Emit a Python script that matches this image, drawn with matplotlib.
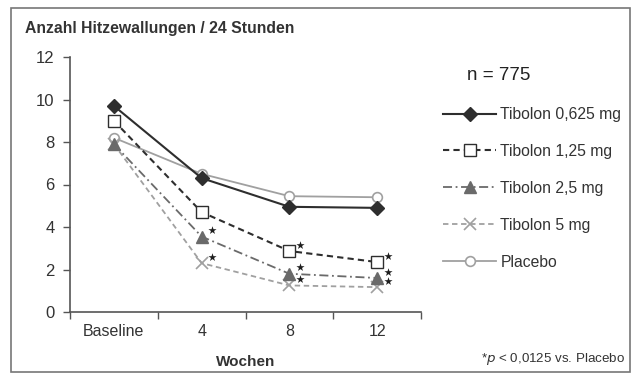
import matplotlib
matplotlib.use('Agg')
import matplotlib.pyplot as plt
from matplotlib.patches import Rectangle

plt.rcParams['font.family'] = ['Liberation Sans', 'DejaVu Sans']

# data
weeks = ['Baseline', '4', '8', '12']
t0625 = [9.7, 6.3, 4.95, 4.9]
t125 = [9.0, 4.7, 2.87, 2.35]
t25 = [7.9, 3.55, 1.8, 1.6]
t5 = [7.9, 2.3, 1.25, 1.17]
placebo = [8.2, 6.5, 5.45, 5.4]
sig125 = [False, False, True, True]
sig25 = [False, True, True, True]
sig5 = [False, True, True, True]

fig = plt.figure(figsize=(6.35, 3.8), dpi=100)
ax = fig.add_axes([70/635, 1-312/380, 351/635, 255/380])

x = list(range(len(weeks)))
dark = '#2e2e2e'
mid = '#6a6a6a'
light = '#a0a0a0'

ax.plot(x, placebo, color=light, lw=1.3, marker='o', ms=7, mfc='white',
        mec=light, mew=1.2, label='Placebo', zorder=3)
ax.plot(x, t5, color=light, lw=1.3, ls=(0, (3, 2)), marker='x', ms=9,
        mec=light, mew=1.2, label='Tibolon 5 mg', zorder=3)
ax.plot(x, t25, color=mid, lw=1.3, ls=(0, (5, 2, 1, 2)), marker='^', ms=8,
        mfc=mid, mec=mid, label='Tibolon 2,5 mg', zorder=3)
ax.plot(x, t125, color=dark, lw=1.5, ls=(0, (3, 2)), marker='s', ms=8,
        mfc='white', mec=dark, mew=1.0, label='Tibolon 1,25 mg', zorder=4)
ax.plot(x, t0625, color=dark, lw=1.5, marker='D', ms=7, mfc=dark,
        mec=dark, label='Tibolon 0,625 mg', zorder=5)

# significance stars next to the points
for vals, flags in [(t125, sig125), (t25, sig25), (t5, sig5)]:
    sx = [i + 0.12 for i, f in enumerate(flags) if f]
    sy = [v + 0.3 for v, f in zip(vals, flags) if f]
    ax.scatter(sx, sy, marker='*', s=38, color='#1e1e1e', zorder=6, lw=0)

ax.set_xlim(-0.5, 3.5)
ax.set_ylim(0, 12)
ax.set_yticks([0, 2, 4, 6, 8, 10, 12])
ax.set_xticks([-0.5, 0.5, 1.5, 2.5, 3.5])
ax.set_xticklabels([])
ax.set_xticks(x, minor=True)
ax.set_xticklabels(weeks, minor=True)
ax.tick_params(axis='x', which='minor', length=0, pad=9, labelsize=11.5, colors='#333333')
ax.tick_params(axis='x', which='major', length=5, width=1, color='#555555', direction='out')
ax.tick_params(axis='y', length=5, width=1, color='#555555', labelsize=12, pad=6,
               labelcolor='#333333')
for s in ['top', 'right']:
    ax.spines[s].set_visible(False)
for s in ['left', 'bottom']:
    ax.spines[s].set_color('#555555')
    ax.spines[s].set_linewidth(1.2)

ax.set_xlabel('Wochen', fontsize=11, fontweight='bold', color='#333333', labelpad=11)

handles, labels = ax.get_legend_handles_labels()
order = [4, 3, 2, 1, 0]
fig.legend([handles[i] for i in order], [labels[i] for i in order],
           loc='upper left', bbox_to_anchor=(443/635, 1-107/380), frameon=False,
           fontsize=11.3, handlelength=3.4, handletextpad=0.25, labelspacing=1.4,
           borderpad=0, borderaxespad=0, labelcolor='#333333')

fig.text(25/635, 1-28/380, 'Anzahl Hitzewallungen / 24 Stunden', fontsize=11.3,
         fontweight='bold', color='#333333', va='center', ha='left')
fig.text(467/635, 1-75/380, 'n = 775', fontsize=13.5, color='#222222', va='center', ha='left')
fig.text(481/635, 1-359/380, r'*$\it{p}$ < 0,0125 vs. Placebo', fontsize=9.6,
         color='#333333', va='center', ha='left')

fig.patches.append(Rectangle((11/635, 8/380), 619/635, 364/380, transform=fig.transFigure,
                             fill=False, ec='#777777', lw=1.2))

fig.savefig('out.png', dpi=100)
